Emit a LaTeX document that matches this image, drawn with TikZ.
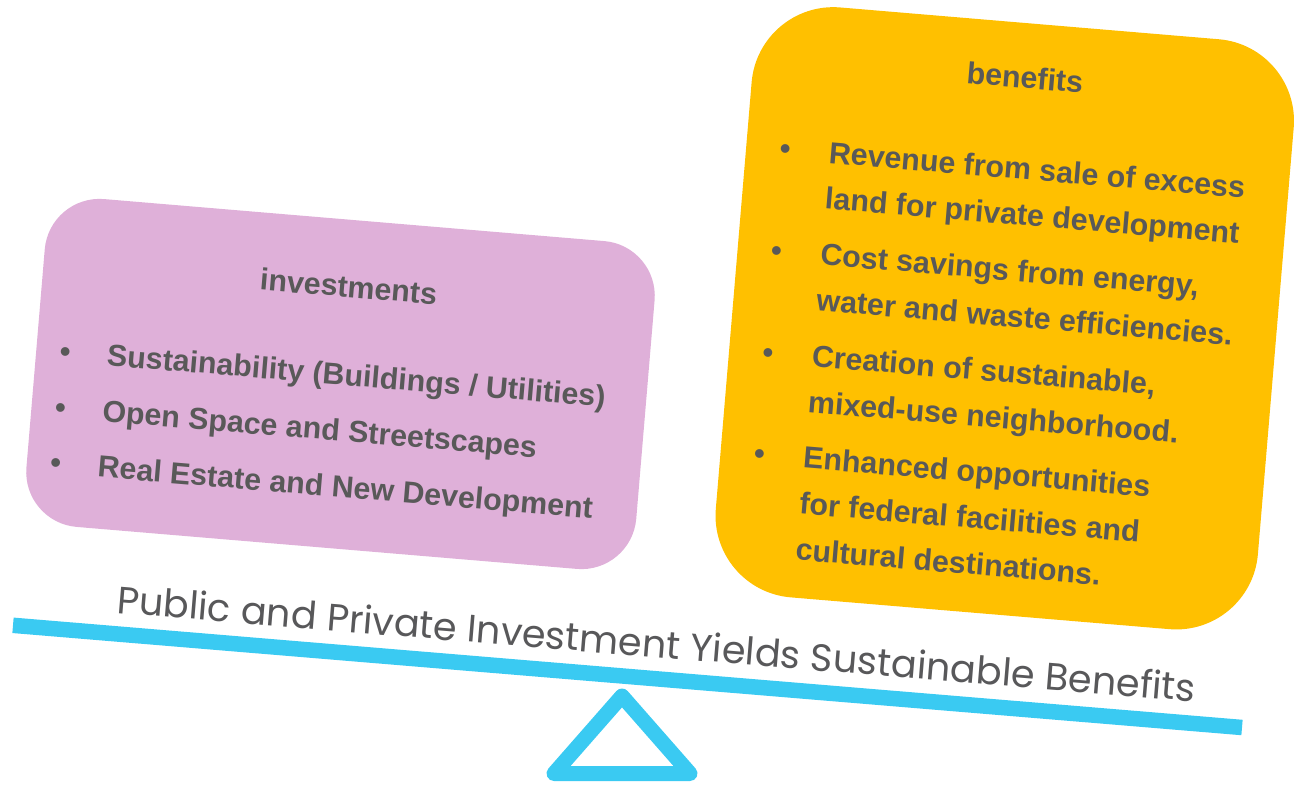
\documentclass[tikz,border=0pt]{standalone}
\usepackage{fontspec}
\setmainfont{Liberation Sans}
\newfontfamily\titlefont{Poppins}
\definecolor{pinkbox}{RGB}{223,176,217}
\definecolor{yellowbox}{RGB}{255,192,0}
\definecolor{barcyan}{RGB}{58,202,242}
\definecolor{txtgray}{RGB}{89,89,89}
\definecolor{titlegray}{RGB}{88,88,90}
\begin{document}
\begin{tikzpicture}[x=1pt,y=-1pt,
  boxfont/.style={font=\fontsize{30.4}{36}\selectfont\bfseries, text=txtgray, inner sep=0pt},
  boxtext/.style={boxfont, anchor=base west},
  bul/.style={boxfont, anchor=base},
  heading/.style={boxfont, anchor=base},
]
\useasboundingbox (0,0) rectangle (1303,784);

% pink box
\begin{scope}[shift={(340.5,384)}, rotate=-4.8, transform shape]
  \fill[pinkbox, rounded corners=55pt] (-306,-164.5) rectangle (306,164.5);
  \node[heading] (invh) at (0,-87) {investments};
  \node[bul] (ib1) at (-277,1) {\textbullet};
  \node[boxtext] (it1) at (-235,1) {Sustainability (Buildings / Utilities)};
  \node[bul] (ib2) at (-277,57) {\textbullet};
  \node[boxtext] (it2) at (-235,57) {Open Space and Streetscapes};
  \node[bul] (ib3) at (-277,113) {\textbullet};
  \node[boxtext] (it3) at (-235,113) {Real Estate and New Development};
\end{scope}

% yellow box
\begin{scope}[shift={(1004.75,318.3)}, rotate=-4.8, transform shape]
  \fill[yellowbox, rounded corners=82pt] (-272,-296) rectangle (272,296);
  \node[heading] (benh) at (0,-231) {benefits};
  \node[bul] (bb1) at (-233,-140) {\textbullet};
  \node[boxtext] (bt1a) at (-189,-140) {Revenue from sale of excess};
  \node[boxtext] (bt1b) at (-189,-94) {land for private development};
  \node[bul] (bb2) at (-233,-38) {\textbullet};
  \node[boxtext] (bt2a) at (-189,-38) {Cost savings from energy,};
  \node[boxtext] (bt2b) at (-189,8) {water and waste efficiencies.};
  \node[bul] (bb3) at (-233,64) {\textbullet};
  \node[boxtext] (bt3a) at (-189,64) {Creation of sustainable,};
  \node[boxtext] (bt3b) at (-189,110) {mixed-use neighborhood.};
  \node[bul] (bb4) at (-233,166) {\textbullet};
  \node[boxtext] (bt4a) at (-189,166) {Enhanced opportunities};
  \node[boxtext] (bt4b) at (-189,212) {for federal facilities and};
  \node[boxtext] (bt4c) at (-189,258) {cultural destinations.};
\end{scope}

% seesaw bar
\coordinate (barL) at (13,625.3);
\coordinate (barR) at (1242,727.5);
\draw[barcyan, line width=15.5pt] (barL) -- (barR);

% title
\node[anchor=base west, rotate=-4.7, inner sep=0pt, text=titlegray] (title) at (116,613)
  {\resizebox{1082pt}{!}{\titlefont Public and Private Investment Yields Sustainable Benefits}};

% fulcrum
\coordinate (apex) at (622,696);
\coordinate (baseL) at (554,773.5);
\coordinate (baseR) at (690,773.5);
\draw[barcyan, line width=15pt, line join=round] (apex) -- (baseL) -- (baseR) -- cycle;
\end{tikzpicture}
\end{document}
